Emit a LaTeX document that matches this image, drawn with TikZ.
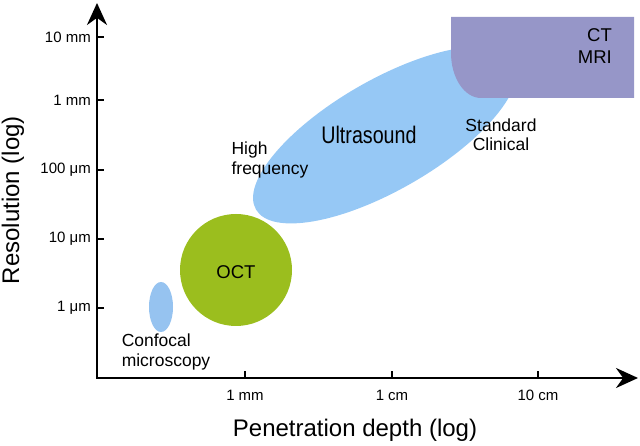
\documentclass[tikz,border=0pt]{standalone}
\usepackage{fontspec}
\setmainfont{Liberation Sans}
\usetikzlibrary{shapes.geometric, arrows.meta, positioning}

\definecolor{usblue}{RGB}{150,200,245}
\definecolor{cfblue}{RGB}{150,195,240}
\definecolor{octgreen}{RGB}{155,190,30}
\definecolor{ctpurple}{RGB}{150,150,200}

\begin{document}
\begin{tikzpicture}[
        x=1pt, y=1pt,
        axis/.style={line width=2.6pt, {Stealth[length=22pt, width=20pt]}-{Stealth[length=22pt, width=20pt]}},
        tickmark/.style={line width=1.3pt},
        ticklabel/.style={font=\fontsize{15}{15}\selectfont, inner sep=0pt},
        axislabel/.style={font=\fontsize{24}{24}\selectfont, inner sep=0pt},
        blob/.style={ellipse, inner sep=0pt, draw=none},
        tag/.style={font=\fontsize{17.5}{19.5}\selectfont, align=left, inner sep=0pt}
    ]
        \useasboundingbox (0,0) rectangle (640,446);
        % imaging regions
        \node[blob, fill=usblue, minimum width=298pt, minimum height=110pt, rotate=30] (US) at (385,311) {};
        \fill[ctpurple] (634,429) -- (451,429) -- (451,393) arc[start angle=180, end angle=270, x radius=30, y radius=45] -- (634,348) -- cycle;
        \node[blob, fill=cfblue, minimum width=24pt, minimum height=50pt] (CF) at (161,139) {};
        \node[circle, fill=octgreen, minimum size=112pt, inner sep=0pt] (OCT) at (236,176) {};
        % region labels
        \node[font=\fontsize{24}{24}\selectfont\addfontfeature{FakeStretch=0.82}] (USlabel) at (369,311) {Ultrasound};
        \node[tag] (HF) at (270,286) {High\\frequency};
        \node[tag, align=center] (SC) at (501,311) {Standard\\Clinical};
        \node[font=\fontsize{18.5}{18.5}\selectfont] (OCTlabel) at (236,174) {OCT};
        \node[tag] (CFlabel) at (166,94) {Confocal\\microscopy};
        \node[font=\fontsize{18.5}{22}\selectfont, align=right, anchor=east, inner sep=0pt] (CTMRI) at (612,400) {CT\\MRI};
        % axes
        \coordinate (O) at (97,68);
        \coordinate (ytip) at (97,443);
        \coordinate (xtip) at (638,68);
        \draw[axis] (ytip) -- (O) -- (xtip);
        % resolution ticks
        \draw[tickmark] (97,409) -- ++(7,0);
        \draw[tickmark] (97,346) -- ++(7,0);
        \draw[tickmark] (97,276) -- ++(7,0);
        \draw[tickmark] (97,207) -- ++(7,0);
        \draw[tickmark] (97,138) -- ++(7,0);
        \node[ticklabel, anchor=east] (r10mm) at (91,409) {10 mm};
        \node[ticklabel, anchor=east] (r1mm) at (91,346) {1 mm};
        \node[ticklabel, anchor=east] (r100um) at (91,276) {100 μm};
        \node[ticklabel, anchor=east] (r10um) at (91,207) {10 μm};
        \node[ticklabel, anchor=east] (r1um) at (91,138) {1 μm};
        % depth ticks
        \draw[tickmark] (245,68) -- ++(0,7);
        \draw[tickmark] (392,68) -- ++(0,7);
        \draw[tickmark] (538,68) -- ++(0,7);
        \node[ticklabel] (d1mm) at (245,51) {1 mm};
        \node[ticklabel] (d1cm) at (392,51) {1 cm};
        \node[ticklabel] (d10cm) at (538,51) {10 cm};
        % axis titles
        \node[axislabel, rotate=90] (ylab) at (13,246) {Resolution (log)};
        \node[axislabel] (xlab) at (355,16) {Penetration depth (log)};
    \end{tikzpicture}
\end{document}
